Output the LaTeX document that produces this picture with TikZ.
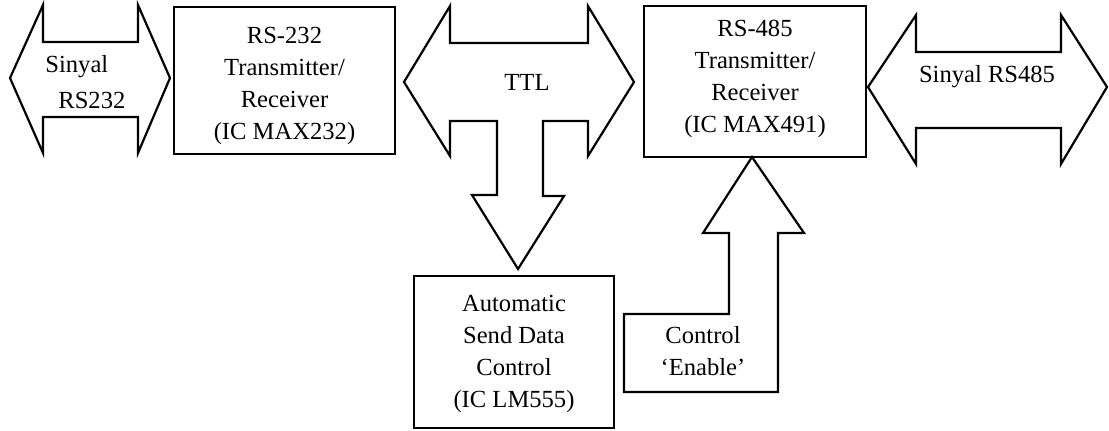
\documentclass[tikz,border=0pt]{standalone}
\usepackage{fontspec}
\setmainfont{Liberation Serif}
\begin{document}
\begin{tikzpicture}[x=0.5pt,y=-0.5pt,
  outline/.style={draw=black,line width=1.1pt,line join=miter},
  box/.style={outline,rectangle,inner sep=0pt},
  lbl/.style={inner sep=0pt,align=center,font=\fontsize{12.3}{16}\selectfont}]
\useasboundingbox (0,0) rectangle (1109,430);
% left double arrow
\draw[outline] (10,78) -- (43,5) -- (43,42) -- (138,42) -- (138,5) -- (170,78)
  -- (138,153) -- (138,117) -- (43,117) -- (43,153) -- cycle;
\node[lbl,anchor=west] (s1) at (45,67) {Sinyal};
\node[lbl,anchor=west] (s2) at (58,100) {RS232};
% RS-232 box
\node[box,minimum width=110.5pt,minimum height=73.5pt] (rs232) at (284.5,80.5) {};
\node[lbl] (t232) at (284.5,86) {RS-232\\Transmitter/\\Receiver\\(IC MAX232)};
% TTL arrow
\draw[outline] (404,82) -- (450,6) -- (450,43) -- (588,43) -- (588,6) -- (634,82)
  -- (588,156) -- (588,121) -- (543,121) -- (543,196) -- (564,196) -- (518,269)
  -- (472,195) -- (497,195) -- (497,121) -- (450,121) -- (450,156) -- cycle;
\node[lbl] (ttl) at (527,82) {TTL};
% RS-485 box
\node[box,minimum width=111pt,minimum height=75.5pt] (rs485) at (755,81.5) {};
\node[lbl] (t485) at (755,79) {RS-485\\Transmitter/\\Receiver\\(IC MAX491)};
% right double arrow
\draw[outline] (868,87) -- (916,15) -- (916,52) -- (1061,52) -- (1061,15) -- (1107,87)
  -- (1061,164) -- (1061,128) -- (916,128) -- (916,164) -- cycle;
\node[lbl] (s485) at (987,77) {Sinyal RS485};
% Automatic box
\node[box,minimum width=100pt,minimum height=76pt] (auto) at (514,352) {};
\node[lbl] (tauto) at (514,354) {Automatic\\Send Data\\Control\\(IC LM555)};
% control enable arrow
\draw[outline] (752,157) -- (804,233) -- (778,233) -- (778,392) -- (624,392)
  -- (624,314) -- (729,314) -- (729,233) -- (703,233) -- cycle;
\node[lbl] (ctrl) at (703,351) {Control\\‘Enable’};
\end{tikzpicture}
\end{document}
